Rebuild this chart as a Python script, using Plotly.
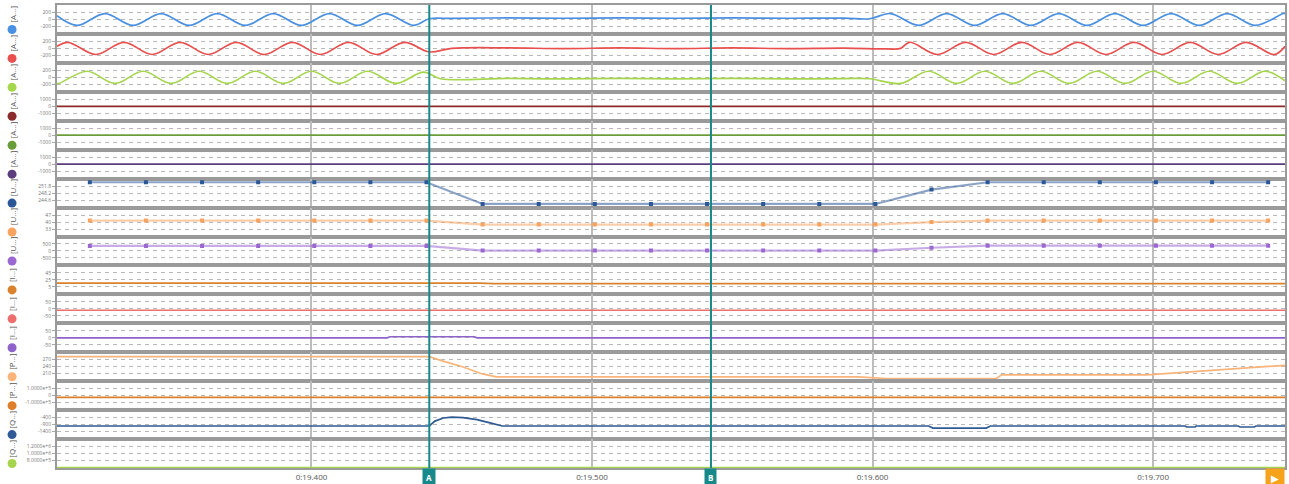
import plotly.graph_objects as go
from plotly.subplots import make_subplots

# time axis (seconds inside the record)
X_RANGE = [19.3093, 19.7470]
X_TICKS = [19.4, 19.5, 19.6, 19.7]
X_TICK_TEXT = ["0:19.400", "0:19.500", "0:19.600", "0:19.700"]
CURSOR_A = 19.442
CURSOR_B = 19.5424

ROW_LABELS = ["[A...]"] * 6 + ["[U...]"] * 3 + ["[I...]"] * 3 + ["[P...]"] * 2 + ["[Q...]"] * 2
ROW_COLORS = ["#4a90e2", "#e8504f", "#a5d64c", "#8b2c2c", "#6b9c3a", "#5c3d7e",
              "#2b5797", "#f8a460", "#9b67d0", "#d9822b", "#ee6e6e", "#8e63c9",
              "#f9b47a", "#dd7f2a", "#2f5a94", "#a6d44e"]

# y tick centre / step per row and the labels drawn at centre+step, centre, centre-step
ROW_CENTER = [0, 0, 0, 0, 0, 0, 248.2, 40, 0, 25, 0, 0, 240, 0, -900, 1.0e6]
ROW_STEP = [200, 200, 200, 1000, 1000, 1000, 3.6, 7, 500, 20, 50, 50, 30, 1.0e5, 500, 2.0e5]
ROW_TICK_TEXT = [
    ["200", "0", "-200"], ["200", "0", "-200"], ["200", "0", "-200"],
    ["1000", "0", "-1000"], ["1000", "0", "-1000"], ["1000", "0", "-1000"],
    ["251.8", "248.2", "244.6"], ["47", "40", "33"], ["500", "0", "-500"],
    ["45", "25", "5"], ["50", "0", "-50"], ["50", "0", "-50"],
    ["270", "240", "210"], ["1.0000e+5", "0", "-1.0000e+5"],
    ["-400", "-900", "-1400"], ["1.2000e+6", "1.0000e+6", "8.0000e+5"],
]

# phase currents (extrema of the waveform, drawn as spline)
ia_t = [19.3093, 19.3164, 19.3264, 19.3364, 19.3464, 19.3564, 19.3664, 19.3764, 19.3864,
        19.3964, 19.4064, 19.4164, 19.4264, 19.4364, 19.4420, 19.4500, 19.4700, 19.4900,
        19.5100, 19.5300, 19.5500, 19.5700, 19.5900, 19.5990, 19.6064, 19.6164, 19.6264,
        19.6364, 19.6464, 19.6564, 19.6664, 19.6764, 19.6864, 19.6964, 19.7064, 19.7164,
        19.7264, 19.7364, 19.7464, 19.7470]
ia_v = [105, -170, 170, -170, 170, -170, 170, -170, 170,
        -170, 170, -170, 170, -170, 20, 30, 45, 35,
        45, 35, 45, 35, 40, 20, 170, -170, 170,
        -170, 170, -170, 170, -170, 170, -170, 170, -170,
        170, -170, 170, 168]

ib_t = [19.3093, 19.3132, 19.3232, 19.3332, 19.3432, 19.3532, 19.3632, 19.3732, 19.3832,
        19.3932, 19.4032, 19.4132, 19.4232, 19.4332, 19.4420, 19.4500, 19.4700, 19.4900,
        19.5100, 19.5300, 19.5500, 19.5700, 19.5900, 19.6050, 19.6100, 19.6132, 19.6232,
        19.6332, 19.6432, 19.6532, 19.6632, 19.6732, 19.6832, 19.6932, 19.7032, 19.7132,
        19.7232, 19.7332, 19.7432, 19.7470]
ib_v = [60, 175, -175, 175, -175, 175, -175, 175, -175,
        175, -175, 175, -175, 175, -100, 0, 15, -5,
        15, -5, 15, -5, 10, -15, 0, 175, -175,
        175, -175, 175, -175, 175, -175, 175, -175, 175,
        -175, 175, -175, 60]

ic_t = [19.3093, 19.3100, 19.3200, 19.3300, 19.3400, 19.3500, 19.3600, 19.3700, 19.3800,
        19.3900, 19.4000, 19.4100, 19.4200, 19.4300, 19.4400, 19.4460, 19.4700, 19.4900,
        19.5100, 19.5300, 19.5500, 19.5700, 19.5900, 19.5990, 19.6100, 19.6200, 19.6300,
        19.6400, 19.6500, 19.6600, 19.6700, 19.6800, 19.6900, 19.7000, 19.7100, 19.7200,
        19.7300, 19.7400, 19.7470]
ic_v = [-170, -175, 175, -175, 175, -175, 175, -175, 175,
        -175, 175, -175, 175, -175, 150, -40, -30, -45,
        -30, -45, -30, -45, -35, -40, -175, 175, -175,
        175, -175, 175, -175, 175, -175, 175, -175, 175,
        -175, 175, -100]

flat_t = [19.3093, 19.7470]
a4_v = [0, 0]
a5_v = [0, 0]
a6_v = [0, 0]

# RMS values, one sample every 20 ms
rms_t = [19.321, 19.341, 19.361, 19.381, 19.401, 19.421, 19.441, 19.461, 19.481, 19.501, 19.521,
         19.541, 19.561, 19.581, 19.601, 19.621, 19.641, 19.661, 19.681, 19.701, 19.721, 19.741]
u1_v = [253.8, 253.8, 253.8, 253.8, 253.8, 253.8, 253.8, 242.6, 242.6, 242.6, 242.6,
        242.6, 242.6, 242.6, 242.6, 250.0, 253.8, 253.8, 253.8, 253.8, 253.8, 253.8]
u2_v = [41.5, 41.5, 41.5, 41.5, 41.5, 41.5, 41.5, 37.5, 37.5, 37.5, 37.5,
        37.5, 37.5, 37.5, 37.5, 40.0, 41.5, 41.5, 41.5, 41.5, 41.5, 41.5]
u3_v = [360, 360, 360, 360, 360, 360, 360, 30, 30, 30, 30,
        30, 30, 30, 30, 230, 380, 380, 380, 380, 380, 380]

i1_t = [19.3093, 19.4600, 19.4650, 19.5500, 19.6500, 19.7470]
i1_v = [16, 16, 14.5, 14.6, 14.5, 14.5]
i2_v = [-10, -10]
i3_t = [19.3093, 19.4270, 19.4280, 19.4580, 19.4590, 19.7470]
i3_v = [0, 0, 7.5, 7.5, 0, 0]

p1_t = [19.3093, 19.4420, 19.4475, 19.4538, 19.4609, 19.4659, 19.5950, 19.6050,
        19.6440, 19.6460, 19.6980, 19.7470]
p1_v = [283.5, 283.5, 262, 240, 209, 196.5, 196.5, 189,
        189, 205, 205, 246]
p2_v = [-25000, -25000]

q1_t = [19.3093, 19.4420, 19.4440, 19.4470, 19.4500, 19.4540, 19.4590, 19.4640, 19.4680,
        19.6200, 19.6215, 19.6405, 19.6420, 19.7114, 19.7120, 19.7150, 19.7153, 19.7303,
        19.7310, 19.7360, 19.7367, 19.7470]
q1_v = [-1000, -1000, -650, -430, -370, -400, -550, -800, -1000,
        -1000, -1150, -1150, -1000, -1000, -1070, -1070, -1000, -1000,
        -1070, -1070, -1000, -1000]
q2_v = [596000, 596000]

series = [
    (ia_t, ia_v, "spline"), (ib_t, ib_v, "spline"), (ic_t, ic_v, "spline"),
    (flat_t, a4_v, "linear"), (flat_t, a5_v, "linear"), (flat_t, a6_v, "linear"),
    (rms_t, u1_v, "markers"), (rms_t, u2_v, "markers"), (rms_t, u3_v, "markers"),
    (i1_t, i1_v, "linear"), (flat_t, i2_v, "linear"), (i3_t, i3_v, "linear"),
    (p1_t, p1_v, "linear"), (flat_t, p2_v, "linear"),
    (q1_t, q1_v, "linear"), (flat_t, q2_v, "linear"),
]

n_rows = len(series)
fig = make_subplots(rows=n_rows, cols=1, shared_xaxes=True, vertical_spacing=0)


def fade(hex_color, alpha):
    r, g, b = int(hex_color[1:3], 16), int(hex_color[3:5], 16), int(hex_color[5:7], 16)
    return f"rgba({r},{g},{b},{alpha})"


for i, (xs, ys, kind) in enumerate(series):
    color = ROW_COLORS[i]
    if kind == "markers":
        fig.add_trace(go.Scatter(
            x=xs, y=ys, mode="lines+markers",
            line=dict(color=fade(color, 0.55), width=2.2),
            marker=dict(color=color, size=4, symbol="square"),
            showlegend=False
        ), row=i + 1, col=1)
    else:
        fig.add_trace(go.Scatter(
            x=xs, y=ys, mode="lines",
            line=dict(color=color, width=1.7, shape=kind, simplify=False,
                      smoothing=1.0 if kind == "spline" else None),
            showlegend=False
        ), row=i + 1, col=1)

    c, d = ROW_CENTER[i], ROW_STEP[i]
    fig.update_yaxes(
        range=[c - 2.07 * d, c + 2.07 * d],
        tickvals=[c + d, c, c - d],
        ticktext=ROW_TICK_TEXT[i],
        tickfont=dict(size=5, color="#777"),
        ticks="outside", ticklen=3, tickcolor="#aaa",
        showgrid=True, gridcolor="#b8b8b8", griddash="4px,4px", gridwidth=1,
        zeroline=False,
        showline=True, mirror=True, linecolor="#9a9a9a", linewidth=2,
        row=i + 1, col=1
    )

fig.update_xaxes(
    range=X_RANGE,
    tickvals=X_TICKS,
    ticktext=X_TICK_TEXT,
    showgrid=True, gridcolor="#bdbdbd", gridwidth=2,
    zeroline=False,
    showline=True, mirror=True, linecolor="#9a9a9a", linewidth=2,
    ticks="",
    tickfont=dict(size=8, color="#555")
)

# measurement cursors A and B
for x_cur, name in [(CURSOR_A, "A"), (CURSOR_B, "B")]:
    fig.add_shape(type="line", xref="x", yref="paper", x0=x_cur, x1=x_cur, y0=0, y1=1,
                  line=dict(color="#17898b", width=2))
    fig.add_annotation(x=x_cur, xref="x", y=0, yref="paper", yanchor="top",
                       text=f"<b>{name}</b>", showarrow=False,
                       font=dict(size=8, color="white"), bgcolor="#17898b",
                       borderpad=3)

# play button
fig.add_annotation(x=1.0, xref="paper", xanchor="right", y=0, yref="paper", yanchor="top",
                   text="▶", showarrow=False, font=dict(size=10, color="white"),
                   bgcolor="#f7a21b", borderpad=2, width=14)

# channel markers on the left
plot_h = 465
row_h = plot_h / n_rows
for i in range(n_rows):
    dot_px = row_h * (i + 1) - 4.5
    dot_y = 1 - dot_px / plot_h
    label_y = 1 - (dot_px - 15) / plot_h
    fig.add_shape(type="circle", xref="paper", yref="paper",
                  xsizemode="pixel", ysizemode="pixel",
                  xanchor=-0.0366, yanchor=dot_y, x0=-4.5, x1=4.5, y0=-4.5, y1=4.5,
                  fillcolor=ROW_COLORS[i], line=dict(width=0))
    fig.add_annotation(x=-0.0366, xref="paper", y=label_y, yref="paper",
                       xanchor="center", yanchor="middle", textangle=-90,
                       text=ROW_LABELS[i], showarrow=False,
                       font=dict(size=8, color="#555"))

fig.update_layout(
    width=1289, height=484,
    margin=dict(l=57, r=2, t=5, b=14),
    paper_bgcolor="white", plot_bgcolor="white",
    font=dict(family="Open Sans, Arial, sans-serif"),
    showlegend=False
)

fig.write_html("out.html", config={"displayModeBar": False},
               post_script="document.body.style.margin='0';")
